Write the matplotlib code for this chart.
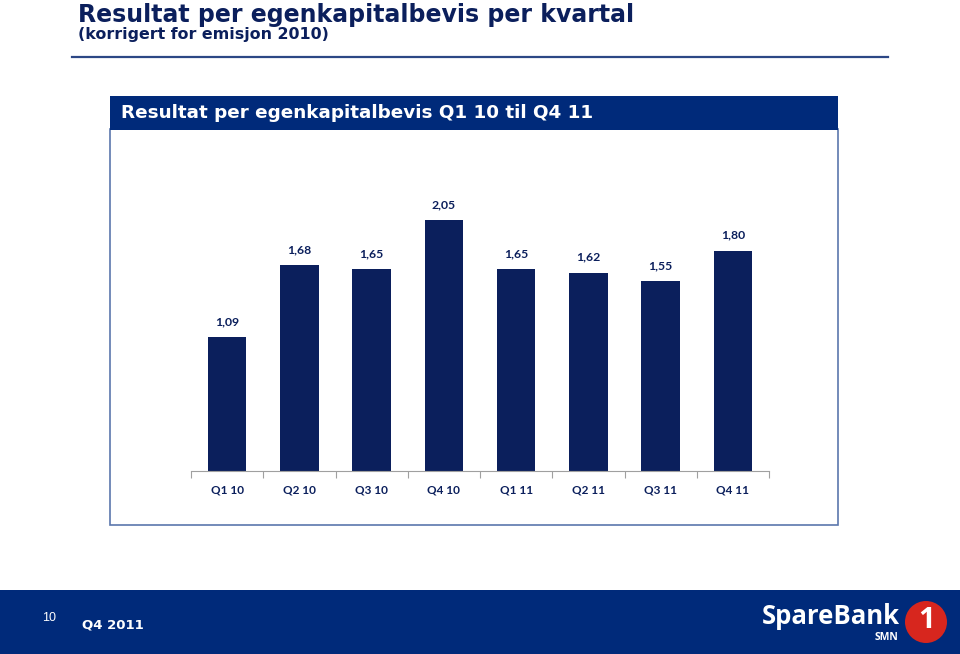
import matplotlib.pyplot as plt
from matplotlib.patches import Rectangle, Ellipse

quarters = ['Q1 10', 'Q2 10', 'Q3 10', 'Q4 10', 'Q1 11', 'Q2 11', 'Q3 11', 'Q4 11']
values = [1.09, 1.68, 1.65, 2.05, 1.65, 1.62, 1.55, 1.80]
value_labels = ['1,09', '1,68', '1,65', '2,05', '1,65', '1,62', '1,55', '1,80']

navy = '#0b1f5c'
blue = '#002a7a'
W, H = 960, 654

fig = plt.figure(figsize=(9.6, 6.54), dpi=100)
fig.patch.set_facecolor('white')


def fx(x):
    return x / W


def fy(y):
    return 1 - y / H


# page title (wide font to mimic the letter spacing)
fig.text(fx(78), fy(15), 'Resultat per egenkapitalbevis per kvartal', family='DejaVu Sans',
         weight='bold', size=17, color=navy, va='center')
fig.text(fx(78), fy(34), '(korrigert for emisjon 2010)', family='DejaVu Sans',
         weight='bold', size=11.4, color=navy, va='center')
fig.add_artist(plt.Line2D([fx(72), fx(888)], [fy(57), fy(57)], color='#2c4785', lw=1.6))

# chart panel
fig.add_artist(Rectangle((fx(110), fy(525)), fx(728), (525 - 129) / H, facecolor='white',
                         edgecolor='#5b77ad', lw=1.2, zorder=0))
fig.add_artist(Rectangle((fx(110), fy(130)), fx(728), 34 / H, facecolor=blue, edgecolor=blue,
                         lw=0, zorder=0))
fig.text(fx(121), fy(113), 'Resultat per egenkapitalbevis Q1 10 til Q4 11', family='DejaVu Sans',
         weight='bold', size=13.2, color='white', va='center')

# bar chart
ax = fig.add_axes([fx(191), fy(471), fx(578), 294 / H])
ax.set_zorder(3)
x = range(len(quarters))
ax.bar(x, values, width=0.53, color=navy)
for i, v in enumerate(values):
    ax.annotate(value_labels[i], (i, v), xytext=(0, 7), textcoords='offset points', ha='center',
                va='bottom', family='Lato', weight='bold', size=8.8, color=navy)
ax.set_xlim(-0.5, len(quarters) - 0.5)
ax.set_ylim(0, 2.4)
ax.set_xticks([i - 0.5 for i in range(len(quarters) + 1)])
ax.set_xticklabels([])
ax.set_xticks(list(x), minor=True)
ax.set_xticklabels(quarters, minor=True, family='Lato', weight='bold', size=8.5, color=navy)
ax.tick_params(axis='x', which='major', length=5, color='#a0a0a0', direction='out')
ax.tick_params(axis='x', which='minor', length=0, pad=10)
ax.set_yticks([])
for s in ['left', 'right', 'top']:
    ax.spines[s].set_visible(False)
ax.spines['bottom'].set_color('#a0a0a0')
ax.set_facecolor('none')

# footer
fig.add_artist(Rectangle((0, 0), 1, 64 / H, facecolor=blue, edgecolor=blue, lw=0, zorder=0))
fig.text(fx(42), fy(618), '10', family='Liberation Sans', size=9, color='white', va='center')
fig.text(fx(82), fy(625), 'Q4 2011', family='DejaVu Sans', weight='bold', size=9.5,
         color='white', va='center')
fig.text(fx(762), fy(617), 'SpareBank', family='Open Sans', weight='bold', size=18.5,
         color='white', va='center')
fig.text(fx(898), fy(638), 'SMN', family='Open Sans', weight='bold', size=7.5,
         color='white', va='center', ha='right')
fig.add_artist(Ellipse((fx(926), fy(622)), 42 / W, 42 / H, facecolor='#d7261e',
                       edgecolor='none', transform=fig.transFigure))
fig.text(fx(927), fy(621), '1', family='Open Sans', weight='bold', size=21, color='white',
         va='center', ha='center')

fig.savefig('out.png', dpi=100)
